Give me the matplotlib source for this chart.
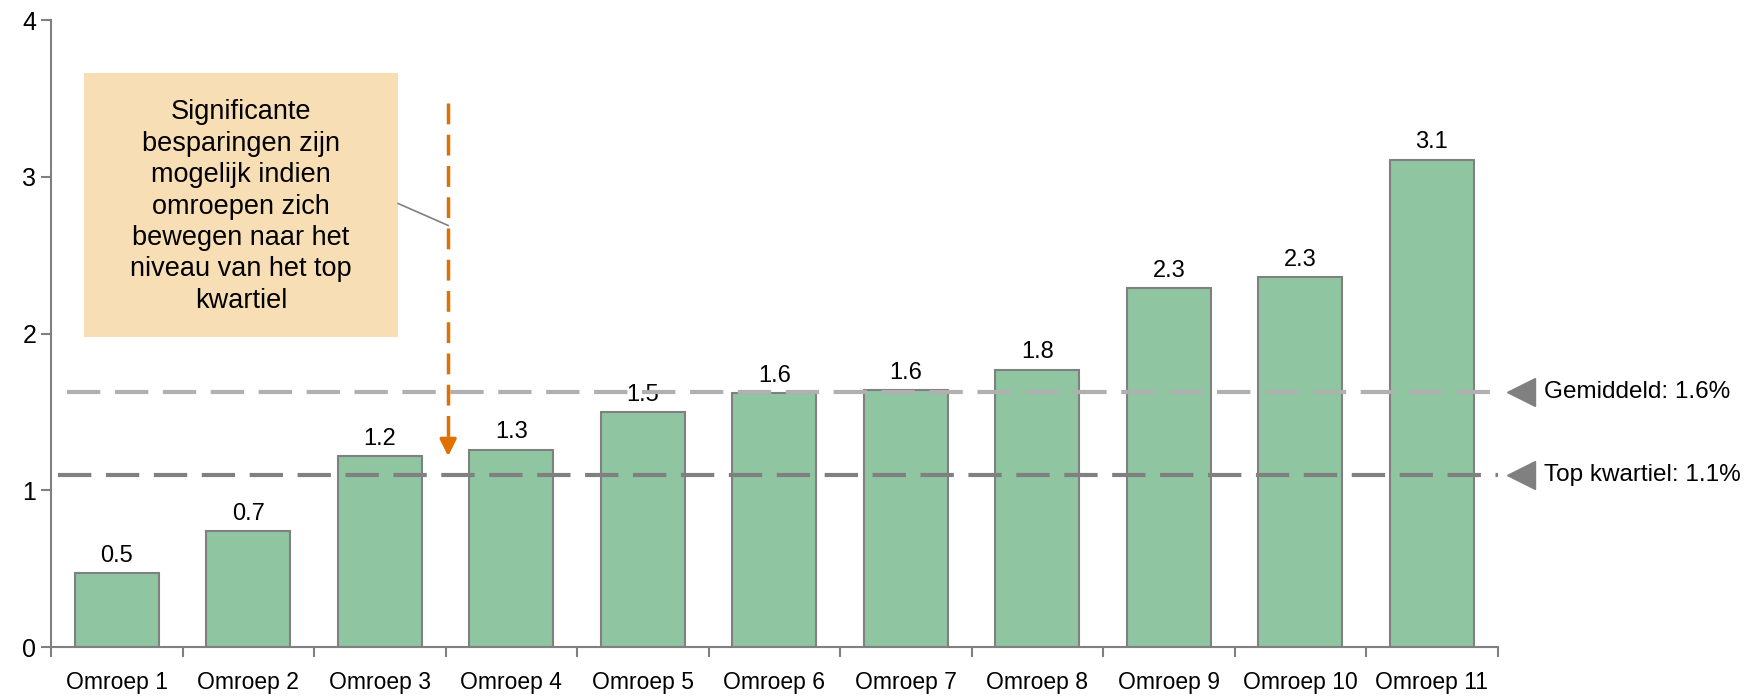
import matplotlib.pyplot as plt

plt.rcParams['font.family'] = ['Liberation Sans', 'DejaVu Sans']

categories = ['Omroep %d' % i for i in range(1, 12)]
values = [0.47, 0.74, 1.22, 1.26, 1.50, 1.62, 1.64, 1.77, 2.29, 2.36, 3.11]
labels = ['0.5', '0.7', '1.2', '1.3', '1.5', '1.6', '1.6', '1.8', '2.3', '2.3', '3.1']
gemiddeld = 1.63
top_kwartiel = 1.1
note = ('Significante\nbesparingen zijn\nmogelijk indien\nomroepen zich\n'
        'bewegen naar het\nniveau van het top\nkwartiel')

fig = plt.figure(figsize=(17.47, 6.96), dpi=100)
ax = fig.add_axes([0.0292, 0.0704, 0.828, 0.9006])

x = list(range(len(categories)))
ax.bar(x, values, width=0.64, color='#8FC5A0', edgecolor='#808080', linewidth=1.5, zorder=2)
for xi, v, lab in zip(x, values, labels):
    ax.text(xi, v + 0.04, lab, ha='center', va='bottom', fontsize=17)

# reference lines
ax.plot([-0.38, 10.5], [gemiddeld] * 2, color='#B0B0B0', lw=3, dashes=(8, 3.5), zorder=3, clip_on=False)
ax.plot([-0.45, 10.5], [top_kwartiel] * 2, color='#808080', lw=3, dashes=(8, 3.5), zorder=3, clip_on=False)
for yv, txt in [(gemiddeld, 'Gemiddeld: 1.6%'), (top_kwartiel, 'Top kwartiel: 1.1%')]:
    ax.plot([10.68], [yv], marker='<', markersize=20, color='#808080', clip_on=False)
    ax.text(10.85, yv, txt, va='center', ha='left', fontsize=17.5)

# annotation box
ax.add_patch(plt.Rectangle((-0.25, 1.98), 2.39, 1.68, facecolor='#F8DEB4', edgecolor='none', zorder=1))
ax.text(0.945, 2.81, note, ha='center', va='center', fontsize=19.5, linespacing=1.27, zorder=4)
ax.plot([2.14, 2.52], [2.83, 2.69], color='#808080', lw=1.2, zorder=4)
ax.plot([2.52, 2.52], [3.47, 1.25], color='#E07000', lw=2.5, dashes=(6, 3), zorder=4)
ax.annotate('', xy=(2.52, 1.2), xytext=(2.52, 1.33),
            arrowprops=dict(arrowstyle='-|>', color='#E07000', lw=2.5, mutation_scale=25), zorder=4)

ax.set_xlim(-0.5, 10.5)
ax.set_ylim(0, 4)
ax.set_yticks([0, 1, 2, 3, 4])
ax.set_xticks(x)
ax.set_xticklabels(categories, fontsize=16.5)
ax.set_xticks([i - 0.5 for i in range(12)], minor=True)
ax.tick_params(axis='x', which='major', length=0, pad=17)
ax.tick_params(axis='x', which='minor', length=7, color='#808080', width=1.5, direction='out')
ax.tick_params(axis='y', labelsize=18, length=7, color='#808080', width=1.5)
for s in ['top', 'right']:
    ax.spines[s].set_visible(False)
for s in ['left', 'bottom']:
    ax.spines[s].set_color('#808080')
    ax.spines[s].set_linewidth(1.5)

fig.savefig('out.png', dpi=100)
